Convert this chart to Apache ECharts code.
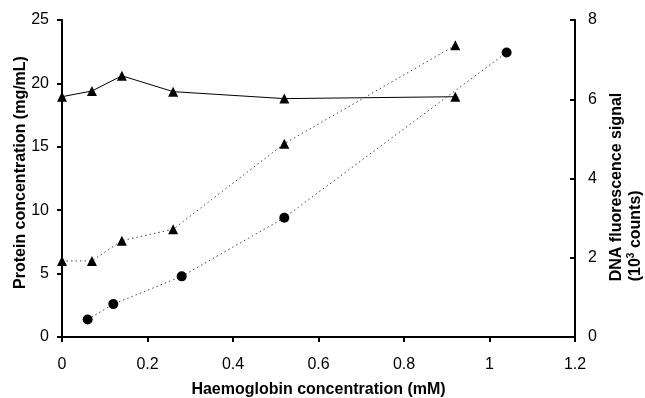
<!DOCTYPE html>
<html><head><meta charset="utf-8">
<script src="https://cdn.jsdelivr.net/npm/echarts@6/dist/echarts.min.js"></script>
<style>html,body{margin:0;padding:0;background:#fff}#c{width:645px;height:398px}</style>
</head><body><div id="c"></div>
<script>
const xSolidTri = [0, 0.07, 0.14, 0.26, 0.52, 0.92];
const ySolidTri = [18.95, 19.4, 20.6, 19.35, 18.8, 18.95];
const xDotTri = [0, 0.07, 0.14, 0.26, 0.52, 0.92];
const yDotTri = [6.0, 6.0, 7.6, 8.5, 15.25, 23.0];
const xDotCirc = [0.06, 0.12, 0.28, 0.52, 1.04];
const yDotCirc = [0.44, 0.83, 1.53, 3.01, 7.18];
const xTicks = [0, 0.2, 0.4, 0.6, 0.8, 1, 1.2];
const yLeftTicks = [0, 5, 10, 15, 20, 25];
const yRightTicks = [0, 2, 4, 6, 8];

const pair = (xs, ys) => xs.map((x, i) => [x, ys[i]]);
const font = 'Liberation Sans, Arial, sans-serif';
const chart = echarts.init(document.getElementById('c'), null, {renderer: 'canvas'});
const mkLine = () => ({show: true, onZero: false, lineStyle: {color: '#000', width: 2, type: 'solid', opacity: 1}});
const mkTick = (inside) => ({show: true, inside: !!inside, length: 5, lineStyle: {color: '#000', width: 2, opacity: 1}});
chart.setOption({
  animation: false,
  grid: {left: 62, right: 70, top: 20, bottom: 61, containLabel: false, outerBoundsMode: 'none'},
  xAxis: {
    type: 'value', min: 0, max: 1.2, interval: 0.2,
    axisLine: mkLine(),
    axisTick: mkTick(false),
    axisLabel: {color: '#000', fontSize: 16, fontFamily: font, margin: 20,
      formatter: v => String(+v.toFixed(1))},
    splitLine: {show: false},
    name: 'Haemoglobin concentration (mM)', nameLocation: 'middle', nameGap: 45, nameMoveOverlap: false,
    nameTextStyle: {color: '#000', fontSize: 16, fontWeight: 'bold', fontFamily: font}
  },
  yAxis: [{
    type: 'value', min: 0, max: 25, interval: 5, position: 'left',
    axisLine: mkLine(),
    axisTick: mkTick(false),
    axisLabel: {color: '#000', fontSize: 16, fontFamily: font, margin: 13},
    splitLine: {show: false},
    name: 'Protein concentration (mg/mL)', nameLocation: 'middle', nameGap: 33, nameRotate: 90, nameMoveOverlap: false,
    nameTextStyle: {color: '#000', fontSize: 16, fontWeight: 'bold', fontFamily: font, padding: [0, 0, 0, 12]}
  }, {
    type: 'value', min: 0, max: 8, interval: 2, position: 'right',
    axisLine: mkLine(),
    axisTick: mkTick(true),
    axisLabel: {color: '#000', fontSize: 16, fontFamily: font, margin: 13},
    splitLine: {show: false},
    name: '{a|DNA fluorescence signal}\n{a|(10}{s|3}{a| counts)}', nameLocation: 'middle', nameGap: 32, nameRotate: 90, nameMoveOverlap: false,
    nameTextStyle: {color: '#000', fontSize: 16, fontWeight: 'bold', fontFamily: font, lineHeight: 19,
      padding: [0, 17, 0, 0],
      rich: {
        a: {fontSize: 16, fontWeight: 'bold', fontFamily: font, color: '#000', lineHeight: 19, align: 'left'},
        s: {fontSize: 10, fontWeight: 'bold', fontFamily: font, color: '#000', verticalAlign: 'top', lineHeight: 19, padding: [0, 0, 6, 0], align: 'left'}
      }}
  }],
  series: [{
    type: 'line', data: pair(xSolidTri, ySolidTri), yAxisIndex: 0,
    symbol: 'triangle', symbolSize: 10,
    itemStyle: {color: '#000'}, lineStyle: {color: '#000', width: 1, type: 'solid'}
  }, {
    type: 'line', data: pair(xDotTri, yDotTri), yAxisIndex: 0,
    symbol: 'triangle', symbolSize: 10,
    itemStyle: {color: '#000'}, lineStyle: {color: '#444', width: 1, type: [1.5, 3]}
  }, {
    type: 'line', data: pair(xDotCirc, yDotCirc), yAxisIndex: 1,
    symbol: 'circle', symbolSize: 10,
    itemStyle: {color: '#000'}, lineStyle: {color: '#444', width: 1, type: [1.5, 3]}
  }]
});
</script></body></html>
